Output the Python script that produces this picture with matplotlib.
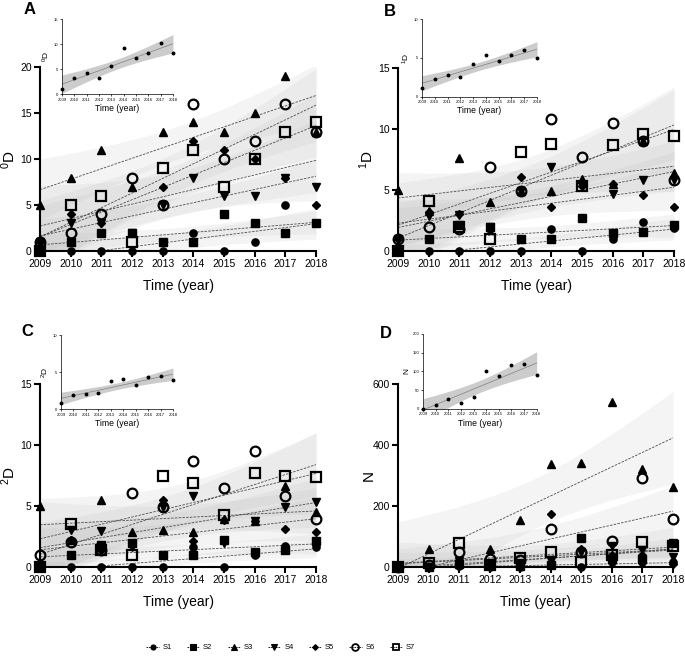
import numpy as np
import matplotlib
matplotlib.use('Agg')
from matplotlib import pyplot as plt
from matplotlib.lines import Line2D

plt.rcParams['font.family'] = ['Liberation Sans', 'DejaVu Sans']
plt.rcParams['mathtext.fontset'] = 'custom'
plt.rcParams['mathtext.rm'] = 'Liberation Sans'

years = np.arange(2009, 2019)
names = ['S1', 'S2', 'S3', 'S4', 'S5', 'S6', 'S7']

# values per species (rows S1..S7)
div0 = [[0, 0, 0, 0, 0, 2, 0, 1, 5, 3],
        [0, 1, 2, 2, 1, 1, 4, 3, 2, 3],
        [5, 8, 11, 7, 13, 14, 13, 15, 19, 13],
        [1, 3, 3, 2, 5, 8, 6, 6, 8, 7],
        [1, 4, 3, 2, 7, 12, 11, 10, 8, 5],
        [1, 2, 4, 8, 5, 16, 10, 12, 16, 13],
        [0, 5, 6, 1, 9, 11, 7, 10, 13, 14]]

div1 = [[0, 0, 0, 0, 0, 1.8, 0, 1.0, 2.35, 1.9],
        [0, 1.0, 2.1, 2.0, 1.0, 1.0, 2.7, 1.45, 1.6, 2.1],
        [5.0, 3.3, 7.6, 4.0, 4.9, 4.9, 5.9, 5.5, 9.0, 6.4],
        [1.0, 2.9, 2.95, 2.0, 4.9, 6.9, 5.3, 4.7, 5.8, 5.8],
        [1.0, 3.2, 3.0, 1.7, 6.1, 3.6, 5.3, 5.5, 4.6, 3.6],
        [1.0, 2.0, 1.8, 6.9, 4.9, 10.8, 7.7, 10.5, 9.0, 5.8],
        [0, 4.1, 2.0, 1.0, 8.1, 8.8, 5.3, 8.7, 9.6, 9.4]]

div2 = [[0, 0, 0, 0, 0, 1.6, 0, 1.0, 1.7, 1.6],
        [0, 1.0, 1.8, 1.95, 1.0, 1.0, 2.2, 1.2, 1.4, 2.1],
        [5.0, 2.2, 5.5, 2.9, 3.0, 2.9, 3.9, 3.8, 6.6, 4.5],
        [0, 3.0, 2.95, 1.6, 4.9, 5.85, 2.0, 3.8, 4.9, 5.35],
        [0, 2.2, 1.4, 1.95, 5.5, 2.15, 3.85, 3.8, 3.1, 2.9],
        [1.0, 2.05, 1.4, 6.1, 4.9, 8.7, 6.5, 9.5, 5.85, 3.9],
        [0, 3.5, 1.4, 1.0, 7.5, 6.9, 4.3, 7.7, 7.5, 7.35]]

abund = [[0, 1, 2, 0, 0, 7, 0, 15, 15, 16],
         [0, 1, 10, 8, 4, 5, 94, 25, 27, 80],
         [0, 58, 20, 59, 154, 338, 342, 540, 321, 263],
         [0, 1, 20, 5, 12, 20, 50, 70, 56, 32],
         [0, 1, 5, 3, 10, 173, 60, 40, 40, 10],
         [0, 5, 48, 25, 23, 123, 48, 86, 291, 156],
         [0, 14, 80, 5, 28, 48, 17, 40, 83, 70]]

# marker, size, filled
styles = [('o', 5.2, True), ('s', 5.2, True), ('^', 5.8, True), ('v', 5.8, True),
          ('D', 4.2, True), ('o', 7, False), ('s', 7, False)]

T975 = 2.306  # t quantile, df = 8
xs = np.linspace(2009, 2018, 120)


def fit_ci(y):
    y = np.asarray(y, float)
    x = years - 2009.0
    n = len(x)
    b, a = np.polyfit(x, y, 1)
    res = y - (a + b * x)
    s = np.sqrt(np.sum(res ** 2) / (n - 2))
    xx = xs - 2009.0
    se = s * np.sqrt(1.0 / n + (xx - x.mean()) ** 2 / np.sum((x - x.mean()) ** 2))
    fit = a + b * xx
    return fit, fit - T975 * se, fit + T975 * se


def style_axis(ax, lw, ticklen, labelsize, pad):
    for sp in ['top', 'right']:
        ax.spines[sp].set_visible(False)
    for sp in ['left', 'bottom']:
        ax.spines[sp].set_linewidth(lw)
    ax.tick_params(width=lw, length=ticklen, labelsize=labelsize, pad=pad)


def panel(rect, irect, data, ylim, yticks, ylab, iylim, iyticks, letter, lxy):
    ax = fig.add_axes(rect)
    fits = [fit_ci(v) for v in data]
    for fit, lo, hi in fits:
        ax.fill_between(xs, lo, hi, color='0.72', alpha=0.15, lw=0, zorder=1)
    for fit, lo, hi in fits:
        ax.plot(xs, fit, color='0.3', lw=0.6, ls=(0, (3, 1.5)), zorder=2)
    for v, (m, ms, filled) in zip(data, styles):
        ax.plot(years, v, ls='none', marker=m, ms=ms, color='k',
                mfc='k' if filled else 'none', mew=1.0 if filled else 1.6,
                clip_on=False, zorder=5)
    ax.set_xlim(2009, 2018)
    ax.set_ylim(*ylim)
    ax.set_xticks(years)
    ax.set_yticks(yticks)
    style_axis(ax, 1.5, 4, 7.5, 2)
    ax.set_xlabel('Time (year)', fontsize=10, labelpad=7)
    ax.set_ylabel(ylab, fontsize=11)
    ax.yaxis.set_label_coords(-22.0 / (rect[2] * 685), 0.5)

    # inset: mean of all species
    mean = np.mean(np.asarray(data, float), axis=0)
    ia = fig.add_axes(irect)
    ia.patch.set_facecolor('none')
    fit, lo, hi = fit_ci(mean)
    ia.fill_between(xs, lo, hi, color='0.8', lw=0, zorder=1)
    ia.plot(xs, fit, color='0.5', lw=0.5, zorder=2)
    ia.plot(years, mean, 'o', ms=1.8, color='k', clip_on=False, zorder=5)
    ia.set_xlim(2009, 2018)
    ia.set_ylim(*iylim)
    ia.set_xticks(years)
    ia.set_yticks(iyticks)
    style_axis(ia, 0.5, 1.5, 3, 1)
    ia.set_xlabel('Time (year)', fontsize=6.2, labelpad=1.5)
    ia.set_ylabel(ylab, fontsize=6, labelpad=1.5)

    fig.text(lxy[0] / 685, 1 - lxy[1] / 659, letter, fontsize=12,
             fontweight='bold', ha='center', va='center')


fig = plt.figure(figsize=(6.85, 6.59), dpi=100)

panel([0.0584, 0.619, 0.403, 0.279], [0.0905, 0.857, 0.162, 0.114],
      div0, (0, 20), [0, 5, 10, 15, 20], r'$\mathregular{^{0}D}$',
      (0, 15), [0, 5, 10, 15], 'A', (30, 10))
panel([0.581, 0.619, 0.403, 0.2777], [0.616, 0.853, 0.168, 0.118],
      div1, (0, 15), [0, 5, 10, 15], r'$\mathregular{^{1}D}$',
      (0, 10), [0, 5, 10], 'B', (390, 12))
panel([0.0584, 0.1396, 0.403, 0.2777], [0.089, 0.379, 0.1635, 0.112],
      div2, (0, 15), [0, 5, 10, 15], r'$\mathregular{^{2}D}$',
      (0, 10), [0, 5, 10], 'C', (27, 331))
panel([0.581, 0.1396, 0.4015, 0.2777], [0.6175, 0.3794, 0.166, 0.1138],
      abund, (0, 600), [0, 200, 400, 600], 'N',
      (0, 200), [0, 50, 100, 150, 200], 'D', (386, 334))

handles = []
for m, ms, filled in styles:
    handles.append(Line2D([], [], color='k', lw=0.6, ls=(0, (2, 1)), marker=m,
                          ms=ms * 0.7, mfc='k' if filled else 'none',
                          mew=0.8 if filled else 1.3))
fig.legend(handles, names, loc='center', bbox_to_anchor=(0.41, 0.017), ncol=7,
           frameon=False, fontsize=5.5, handlelength=1.6, handletextpad=0.5,
           columnspacing=2.0)

fig.savefig('out.png', dpi=100)
